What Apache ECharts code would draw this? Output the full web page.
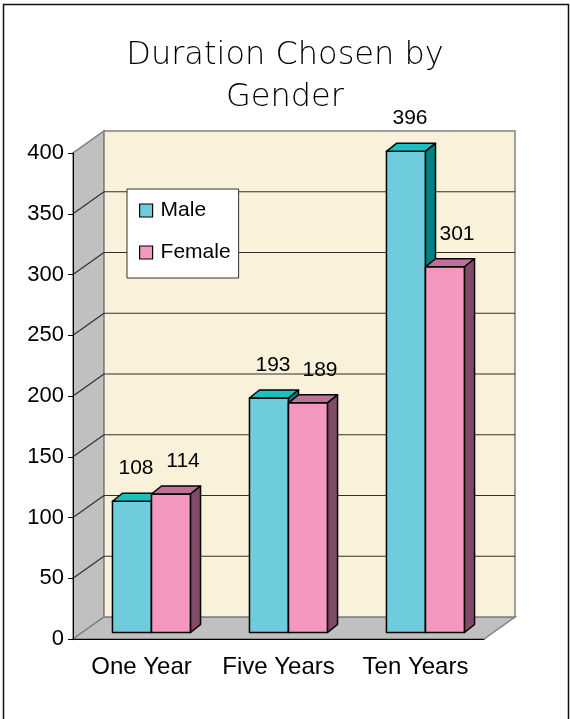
<!DOCTYPE html>
<html><head><meta charset="utf-8">
<script src="https://cdn.jsdelivr.net/npm/echarts@6/dist/echarts.min.js"></script>
<style>html,body{margin:0;padding:0;background:#fff}#c{width:570px;height:719px}</style>
</head><body><div id="c"></div>
<script>
// ---- data ----
const categories = ['One Year', 'Five Years', 'Ten Years'];
const maleValues = [108, 193, 396];
const femaleValues = [114, 189, 301];
const yTicks = [0, 50, 100, 150, 200, 250, 300, 350, 400];
const seriesNames = ['Male', 'Female'];
const titleText = 'Duration Chosen by\nGender';

// ---- 3D look (styles / geometry constants) ----
const WALL_DX = 31, WALL_DY = -22;
const BAR_FX = 10, BAR_FY = -6.5, BAR_DX = 10, BAR_DY = -8, BAR_W_FRAC = 0.285;
const maleColors = { front: '#6ECCDC', top: '#1CBFBF', side: '#008080', labelDx: 4 };
const femaleColors = { front: '#F498C0', top: '#C07098', side: '#804A68', labelDx: 12 };
const FONT = '"Liberation Sans", Arial, sans-serif';

const chart = echarts.init(document.getElementById('c'), null, { renderer: 'canvas' });

function wallsRender(params, api) {
  const cs = params.coordSys;
  const x0 = cs.x, x1 = cs.x + cs.width, yT = cs.y, yB = cs.y + cs.height;
  const edge = { stroke: '#808080', lineWidth: 1.5 };
  return { type: 'group', children: [
    { type: 'polygon', shape: { points: [[x0, yB], [x0, yT], [x0 + WALL_DX, yT + WALL_DY], [x0 + WALL_DX, yB + WALL_DY]] },
      style: Object.assign({ fill: '#C0C0C0' }, edge) },
    { type: 'polygon', shape: { points: [[x0, yB], [x1, yB], [x1 + WALL_DX, yB + WALL_DY], [x0 + WALL_DX, yB + WALL_DY]] },
      style: Object.assign({ fill: '#C0C0C0' }, edge) },
    { type: 'rect', shape: { x: x0 + WALL_DX, y: yT + WALL_DY, width: cs.width, height: cs.height },
      style: Object.assign({ fill: '#F9F1D9' }, edge) }
  ] };
}

function gridRender(params, api) {
  const cs = params.coordSys;
  const x0 = cs.x, x1 = cs.x + cs.width;
  const y = api.coord([0, api.value(1)])[1];
  const ls = { stroke: '#303030', lineWidth: 1.2 };
  return { type: 'group', children: [
    { type: 'line', shape: { x1: x0 + WALL_DX, y1: y + WALL_DY, x2: x1 + WALL_DX, y2: y + WALL_DY }, style: ls },
    { type: 'line', shape: { x1: x0, y1: y, x2: x0 + WALL_DX, y2: y + WALL_DY }, style: ls }
  ] };
}

function makeBarRender(isMale, colors) {
  return function (params, api) {
    const i = api.value(0), v = api.value(1);
    const base = api.coord([i, 0]);
    const top = api.coord([i, v]);
    const band = api.size([1, 0])[0];
    const bw = band * BAR_W_FRAC;
    const cx = base[0];
    const left = (isMale ? cx - bw : cx) + BAR_FX;
    const right = left + bw;
    const yb = base[1] + BAR_FY, yt = top[1] + BAR_FY;
    const st = { stroke: '#000', lineWidth: 1.5, lineJoin: 'round' };
    return { type: 'group', children: [
      { type: 'rect', shape: { x: left, y: yt, width: bw, height: yb - yt }, style: Object.assign({ fill: colors.front }, st) },
      { type: 'polygon', shape: { points: [[left, yt], [right, yt], [right + BAR_DX, yt + BAR_DY], [left + BAR_DX, yt + BAR_DY]] },
        style: Object.assign({ fill: colors.top }, st) },
      { type: 'polygon', shape: { points: [[right, yt], [right + BAR_DX, yt + BAR_DY], [right + BAR_DX, yb + BAR_DY], [right, yb]] },
        style: Object.assign({ fill: colors.side }, st) },
      { type: 'text', style: { text: String(v), x: (left + right) / 2 + colors.labelDx, y: yt - 33,
        align: 'center', verticalAlign: 'middle', fontSize: 21, fontFamily: FONT, fill: '#000' } }
    ] };
  };
}

const option = {
  animation: false,
  backgroundColor: '#fff',
  title: {
    text: titleText, left: 'center', top: 30,
    textStyle: { fontFamily: '"DejaVu Sans", sans-serif', fontWeight: 200, fontSize: 32, lineHeight: 42, color: '#000' }
  },
  legend: {
    orient: 'vertical', left: 127, top: 189, data: seriesNames, icon: 'rect',
    itemWidth: 13, itemHeight: 13, itemGap: 21, padding: [11, 8, 15, 12],
    backgroundColor: '#fff', borderColor: '#333', borderWidth: 1,
    textStyle: { fontSize: 21, fontFamily: FONT, color: '#000', padding: [0, 0, 0, 3] },
    itemStyle: { borderColor: '#000', borderWidth: 1.2 }
  },
  grid: { left: 73, right: 86, top: 153, bottom: 80, containLabel: false },
  xAxis: {
    type: 'category', data: categories, z: 10,
    axisLine: { lineStyle: { color: '#000', width: 1 } },
    axisTick: { length: 6, lineStyle: { color: '#000' } },
    axisLabel: { interval: 0, hideOverlap: false, fontSize: 24, fontFamily: FONT, color: '#000', margin: 16 },
    splitLine: { show: false }
  },
  yAxis: {
    type: 'value', min: 0, max: 400, interval: 50, z: 10,
    axisLine: { show: true, lineStyle: { color: '#000', width: 1 } },
    axisTick: { show: true, length: 5, lineStyle: { color: '#000' } },
    axisLabel: { fontSize: 22, fontFamily: FONT, color: '#000', margin: 9 },
    splitLine: { show: false }
  },
  graphic: [
    { type: 'rect', silent: true, z: 100, shape: { x: 3.5, y: 4.5, width: 565, height: 740 },
      style: { fill: 'none', stroke: '#111', lineWidth: 1.5 } }
  ],
  series: [
    { type: 'custom', name: 'walls', z: 0, silent: true, renderItem: wallsRender, data: [[0, 0]] },
    { type: 'custom', name: 'gridlines', z: 1, silent: true, renderItem: gridRender,
      data: yTicks.filter(v => v > 0 && v < 400).map(v => [0, v]) },
    { type: 'custom', name: seriesNames[0], z: 3, renderItem: makeBarRender(true, maleColors),
      itemStyle: { color: maleColors.front }, data: maleValues.map((v, i) => [i, v]) },
    { type: 'custom', name: seriesNames[1], z: 3, renderItem: makeBarRender(false, femaleColors),
      itemStyle: { color: femaleColors.front }, data: femaleValues.map((v, i) => [i, v]) }
  ]
};
chart.setOption(option);
</script></body></html>
